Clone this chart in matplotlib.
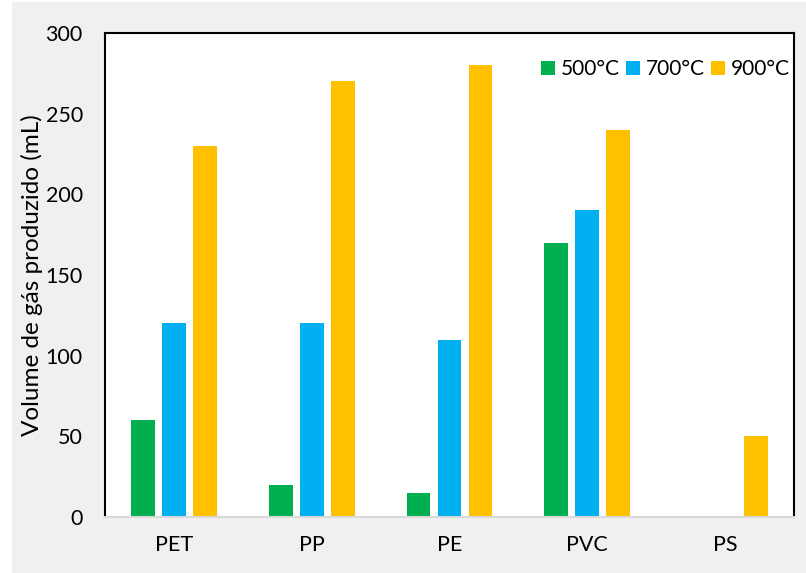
import matplotlib.pyplot as plt
import numpy as np
from matplotlib.patches import Rectangle

plt.rcParams['font.family'] = ['Lato', 'DejaVu Sans']

plastics = ['PET', 'PP', 'PE', 'PVC', 'PS']
temps = ['500°C', '700°C', '900°C']
gas_500 = [60, 20, 15, 170, 0]
gas_700 = [120, 120, 110, 190, 0]
gas_900 = [230, 270, 280, 240, 50]
colors = ['#00B050', '#00B0F0', '#FFC000']

W, H = 806, 573
fig = plt.figure(figsize=(W / 100, H / 100), dpi=100, facecolor='white')
# grey chart area background
fig.patches.append(Rectangle((12 / W, 0), 1 - 12 / W, 1 - 2 / H,
                             transform=fig.transFigure, facecolor='#F0F0F0',
                             edgecolor='none', zorder=-10))

ax = fig.add_axes([105 / W, 1 - 517 / H, (794 - 105) / W, (517 - 33) / H])
ax.set_facecolor('white')

x = np.arange(len(plastics))
width = 0.174
step = 0.225
for i, (vals, lab, c) in enumerate(zip([gas_500, gas_700, gas_900], temps, colors)):
    ax.bar(x + (i - 1) * step, vals, width, color=c, label=lab, zorder=2)

ax.set_xlim(-0.5, len(plastics) - 0.5)
ax.set_ylim(0, 300)
ax.set_yticks(range(0, 301, 50))
ax.set_xticks(x)
ax.set_xticklabels(plastics)
ax.tick_params(axis='both', length=0, labelsize=15.5, colors='black')
ax.tick_params(axis='y', pad=16)
ax.tick_params(axis='x', pad=13)

for s in ['left', 'top', 'right']:
    ax.spines[s].set_color('black')
    ax.spines[s].set_linewidth(1.5)
ax.spines['bottom'].set_color('#D9D9D9')
ax.spines['bottom'].set_linewidth(1.5)

ax.set_ylabel('Volume de gás produzido (mL)', fontsize=17.5, labelpad=2)

ax.legend(loc='upper right', ncol=3, frameon=False, fontsize=15,
          handlelength=0.65, handleheight=0.65, handletextpad=0.3,
          columnspacing=0.3, borderaxespad=0.0, borderpad=0.2,
          bbox_to_anchor=(1.0, 0.955))

fig.savefig('out.png', dpi=100, facecolor=fig.get_facecolor())
